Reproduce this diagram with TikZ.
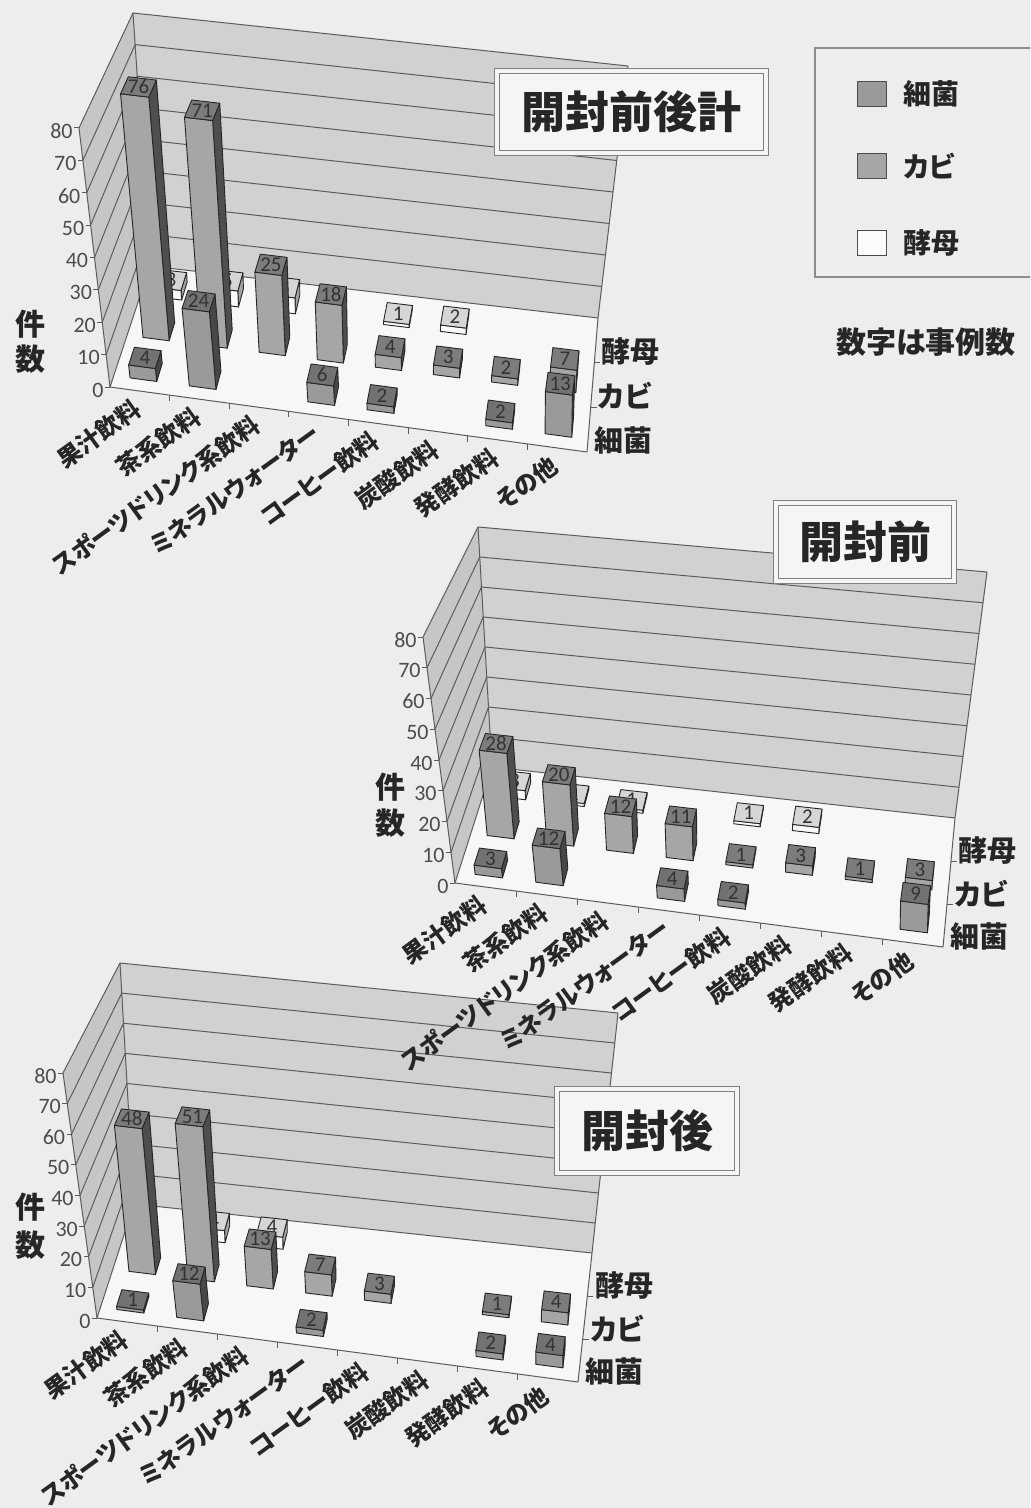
\documentclass[tikz,border=0pt]{standalone}
\usepackage{fontspec}
\setmainfont{Noto Sans CJK JP}[RawFeature=+palt]
\newfontfamily\numfont{Carlito}
\usetikzlibrary{calc}

\definecolor{paper}{HTML}{EDEDED}
\definecolor{backwall}{HTML}{D1D1D1}
\definecolor{sidewall}{HTML}{C6C6C6}
\definecolor{floorc}{HTML}{F7F7F7}
\definecolor{linec}{HTML}{5C5C5C}
\definecolor{bacfront}{HTML}{9A9A9A}
\definecolor{bactop}{HTML}{727272}
\definecolor{bacside}{HTML}{474747}
\definecolor{moldfront}{HTML}{A6A6A6}
\definecolor{moldtop}{HTML}{7C7C7C}
\definecolor{moldside}{HTML}{4E4E4E}
\definecolor{yeastfront}{HTML}{FBFBFB}
\definecolor{yeasttop}{HTML}{D6D6D6}
\definecolor{yeastside}{HTML}{A4A4A4}

\tikzset{
  wall/.style={draw=linec, line width=0.5pt, line join=round},
  gridline/.style={draw=linec, line width=0.5pt},
  face/.style={draw=black!85, line width=0.45pt, line join=round},
  vallabel/.style={font=\numfont\fontsize{11}{12}\selectfont, text=black!70, anchor=east, inner sep=0pt},
  catlabel/.style={font=\bfseries\fontsize{12}{13}\selectfont, text=black!85, rotate=36, anchor=north east, inner sep=0pt},
  serlabel/.style={font=\bfseries\fontsize{14.5}{15}\selectfont, text=black!85, anchor=west, inner sep=0pt},
  axtitle/.style={font=\bfseries\fontsize{15}{16}\selectfont, text=black!85, inner sep=0pt},
  barlabel/.style={font=\numfont\fontsize{10.5}{11}\selectfont, text=black!80, inner sep=0pt},
  titlebox/.style={draw=black!50, double=white!96!black, double distance=2pt, line width=0.5pt,
    fill=white!96!black, font=\bfseries\fontsize{22}{24}\selectfont, text=black!85},
  legbox/.style={draw=black!45, line width=0.6pt},
  legkey/.style={draw=black!70, line width=0.5pt},
  legtext/.style={font=\bfseries\fontsize{14}{15}\selectfont, text=black!85, anchor=west, inner sep=0pt}
}

% corners of a plot box: floor FL FR BR BL, then the 80 level TFL TFR TBR TBL
\newcommand\setcorners[8]{%
  \coordinate (FL) at (#1); \coordinate (FR) at (#2);
  \coordinate (BR) at (#3); \coordinate (BL) at (#4);
  \coordinate (TFL) at (#5); \coordinate (TFR) at (#6);
  \coordinate (TBR) at (#7); \coordinate (TBL) at (#8);}

% point in the box: column 0..8, series row 0..3, value 0..80
\newcommand\boxpt[4]{%
  \pgfmathsetmacro\tu{(#2)/8}%
  \pgfmathsetmacro\tv{(#3)/3}%
  \pgfmathsetmacro\tw{(#4)/80}%
  \coordinate (p1) at ($(FL)!\tu!(FR)$);
  \coordinate (p2) at ($(BL)!\tu!(BR)$);
  \coordinate (p3) at ($(TFL)!\tu!(TFR)$);
  \coordinate (p4) at ($(TBL)!\tu!(TBR)$);
  \coordinate (p5) at ($(p1)!\tv!(p2)$);
  \coordinate (p6) at ($(p3)!\tv!(p4)$);
  \coordinate (#1) at ($(p5)!\tw!(p6)$);}

\newcommand\drawwalls{%
  \fill[sidewall] (FL) -- (TFL) -- (TBL) -- (BL) -- cycle;
  \fill[backwall] (BL) -- (TBL) -- (TBR) -- (BR) -- cycle;
  \fill[floorc] (FL) -- (FR) -- (BR) -- (BL) -- cycle;
  \foreach \k in {1,...,7}
    \draw[gridline] ($(FL)!\k/8!(TFL)$) -- ($(BL)!\k/8!(TBL)$) -- ($(BR)!\k/8!(TBR)$);
  \draw[wall] (FL) -- (TFL) -- (TBL) -- (TBR) -- (BR) -- (FR) -- cycle;
  \draw[wall] (FL) -- (BL) -- (TBL) (BL) -- (BR);
  \foreach \k in {0,...,8} {
    \coordinate (vt) at ($(FL)!\k/8!(TFL)$);
    \draw[wall] (vt) -- ++(-5,0);
    \pgfmathtruncatemacro\vv{10*\k}
    \node[vallabel] (\chartid-v\k) at ($(vt)+(-6,3)$) {\vv};
  }
  \foreach \i in {1,...,7} {
    \boxpt{ft}{\i}{0}{0}
    \draw[wall] (ft) -- ++(0,6);
  }
  \foreach \j in {1,2} {
    \boxpt{rt}{8}{\j}{0}
    \draw[wall] (rt) -- ++(6,0);
  }}

% one column: series, column, row, value
\newcommand\drawcol[4]{%
  \boxpt{qa}{#2+.275}{#3+.28}{0}
  \boxpt{qb}{#2+.725}{#3+.28}{0}
  \boxpt{qc}{#2+.725}{#3+.72}{0}
  \boxpt{qd}{#2+.275}{#3+.28}{#4}
  \boxpt{qe}{#2+.725}{#3+.28}{#4}
  \boxpt{qf}{#2+.725}{#3+.72}{#4}
  \boxpt{qg}{#2+.275}{#3+.72}{#4}
  \boxpt{qm}{#2+.5}{#3+.5}{#4}
  \filldraw[face, fill=#1side] (qb) -- (qc) -- (qf) -- (qe) -- cycle;
  \filldraw[face, fill=#1front] (qa) -- (qb) -- (qe) -- (qd) -- cycle;
  \filldraw[face, fill=#1top] (qd) -- (qe) -- (qf) -- (qg) -- cycle;
  \node[barlabel] (\chartid-#1-#2) at (qm) {#4};}

\newcommand\drawlabels{%
  \foreach \t [count=\i from 0] in {果汁飲料,茶系飲料,スポーツドリンク系飲料,ミネラルウォーター,コーヒー飲料,炭酸飲料,発酵飲料,その他} {
    \boxpt{cc}{\i+.5}{0}{0}
    \node[catlabel] (\chartid-cat\i) at ($(cc)+(-9,5)$) {\t};
  }
  \foreach \t [count=\j from 0] in {細菌,カビ,酵母} {
    \boxpt{rc}{8}{\j+.5}{0}
    \node[serlabel] (\chartid-ser\j) at ($(rc)+(5,11)$) {\t};
  }}

\begin{document}
\begin{tikzpicture}[x=0.5pt, y=-0.5pt]
  \path[use as bounding box, fill=paper] (0,0) rectangle (1030,1508);
  \clip (0,0) rectangle (1030,1508);

  % after opening
  \def\chartid{c}
  \setcorners{97,1318}{578,1382}{592,1253}{134,1204}{63,1073}{575,1137}{618,1013}{120,963}
  \drawwalls
  \foreach \c/\v in {1/4,2/4} {\drawcol{yeast}{\c}{2}{\v}}
  \foreach \c/\v in {0/48,1/51,2/13,3/7,4/3,6/1,7/4} {\drawcol{mold}{\c}{1}{\v}}
  \foreach \c/\v in {0/1,1/12,3/2,6/2,7/4} {\drawcol{bac}{\c}{0}{\v}}
  \drawlabels
  \node[axtitle] (c-ken) at (30,1207) {件};
  \node[axtitle] (c-suu) at (30,1245) {数};
  \node[titlebox, minimum width=90pt, minimum height=42pt] (c-title) at (647,1131) {開封後};

  % before opening
  \def\chartid{b}
  \setcorners{455,883}{943,947}{955,818}{492,767}{423,637}{948,694}{987,572}{478,527}
  \drawwalls
  \foreach \c/\v in {0/3,1/1,2/1,4/1,5/2} {\drawcol{yeast}{\c}{2}{\v}}
  \foreach \c/\v in {0/28,1/20,2/12,3/11,4/1,5/3,6/1,7/3} {\drawcol{mold}{\c}{1}{\v}}
  \foreach \c/\v in {0/3,1/12,3/4,4/2,7/9} {\drawcol{bac}{\c}{0}{\v}}
  \drawlabels
  \node[axtitle] (b-ken) at (390,787) {件};
  \node[axtitle] (b-suu) at (390,823) {数};
  \node[titlebox, minimum width=89pt, minimum height=39pt] (b-title) at (865,542) {開封前};

  % total
  \def\chartid{t}
  \setcorners{110,387}{587,452}{598,318}{150,266}{79,128}{590,192}{628,66}{133,13}
  \drawwalls
  \foreach \c/\v in {0/3,1/5,2/5,4/1,5/2} {\drawcol{yeast}{\c}{2}{\v}}
  \foreach \c/\v in {0/76,1/71,2/25,3/18,4/4,5/3,6/2,7/7} {\drawcol{mold}{\c}{1}{\v}}
  \foreach \c/\v in {0/4,1/24,3/6,4/2,6/2,7/13} {\drawcol{bac}{\c}{0}{\v}}
  \drawlabels
  \node[axtitle] (t-ken) at (30,324) {件};
  \node[axtitle] (t-suu) at (30,359) {数};
  \node[titlebox, minimum width=134.5pt, minimum height=41pt] (t-title) at (631.5,112) {開封前後計};

  % legend
  \draw[legbox] (1040,48) -- (815,48) -- (815,277) -- (1040,277);
  \foreach \t/\f/\y [count=\j] in {細菌/bacfront/94,カビ/moldfront/166,酵母/yeastfront/243} {
    \filldraw[legkey, fill=\f] (857,\y-12) rectangle ++(29,25);
    \node[legtext] (leg\j) at (903,\y) {\t};
  }
  \node[font=\bfseries\fontsize{15}{16}\selectfont, text=black!85] (note) at (926,342) {数字は事例数};
\end{tikzpicture}
\end{document}
